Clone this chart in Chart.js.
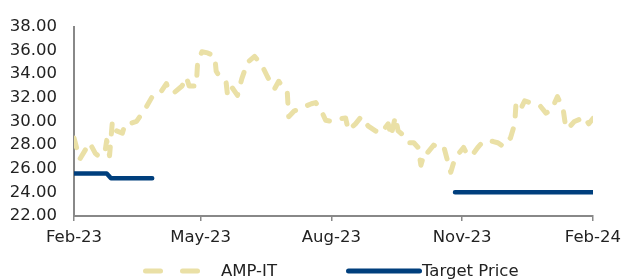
<!DOCTYPE html>
<html>
<head>
<meta charset="utf-8">
<script src="https://cdn.jsdelivr.net/npm/chart.js@4.4.1/dist/chart.umd.min.js"></script>
<style>
  html, body { margin: 0; padding: 0; background: #fff; }
  #wrap { position: relative; width: 628px; height: 280px; overflow: hidden; }
  #legendLines { position: absolute; left: 0; top: 0; }
  .legend-text {
    position: absolute;
    top: 261px;
    font: 16.5px "DejaVu Sans", sans-serif;
    line-height: 20px;
    color: #222;
    white-space: nowrap;
  }
</style>
</head>
<body>
<div id="wrap">
  <canvas id="priceChart" width="628" height="280"></canvas>
  <svg id="legendLines" width="628" height="280">
    <line x1="145.5" y1="271" x2="160.5" y2="271" stroke="#EAE0A6" stroke-width="5" stroke-linecap="round" />
    <line x1="182.5" y1="271" x2="197.5" y2="271" stroke="#EAE0A6" stroke-width="5" stroke-linecap="round" />
    <line x1="348.5" y1="271" x2="419.5" y2="271" stroke="#003F7D" stroke-width="5" stroke-linecap="round" />
  </svg>
  <span class="legend-text" style="left: 221px">AMP-IT</span>
  <span class="legend-text" style="left: 422px">Target Price</span>
</div>
<script>
// x values are days since 1 Feb 2023
const tickDays = [0, 89, 181, 273, 365];
const tickLabels = ["Feb-23", "May-23", "Aug-23", "Nov-23", "Feb-24"];

const ampDays = [
  0, 4, 8, 11, 15, 18, 22, 23, 25, 27, 30, 34, 36, 39, 44, 51, 55, 60, 65, 67,
  71, 76, 79, 81, 86, 87, 90, 94, 99, 100, 104, 107, 108, 111, 115, 118, 122,
  127, 132, 136, 141, 144, 148, 150, 151, 155, 158, 163, 167, 170, 172, 174,
  177, 181, 186, 191, 193, 198, 202, 207, 212, 216, 221, 223, 226, 228, 232,
  235, 239, 242, 244, 247, 249, 253, 256, 260, 262, 265, 267, 270, 274, 277,
  281, 284, 287, 291, 295, 298, 302, 305, 307, 310, 311, 315, 317, 323, 328,
  332, 336, 340, 344, 346, 349, 352, 356, 359, 362, 365,
];
const ampPrice = [
  28.6, 26.8, 27.6, 28.2, 27.3, 27.0, 27.6, 28.4, 27.1, 30.0, 29.2, 29.0, 29.8,
  29.8, 30.0, 31.25, 32.1, 32.3, 33.2, 32.5, 32.5, 33.0, 33.75, 33.0, 33.0,
  35.1, 35.9, 35.8, 35.5, 34.25, 33.5, 33.3, 32.2, 32.9, 32.2, 33.6, 35.0,
  35.5, 34.8, 33.8, 32.75, 33.4, 32.7, 32.5, 30.4, 30.9, 31.0, 31.3, 31.5,
  31.6, 31.2, 30.9, 30.1, 30.0, 30.2, 30.3, 29.25, 29.8, 30.4, 29.6, 29.2,
  29.0, 29.8, 28.75, 30.4, 29.2, 28.8, 28.2, 28.2, 27.8, 26.3, 27.5, 27.4,
  28.0, 27.8, 27.9, 27.0, 25.7, 26.5, 27.2, 27.8, 27.1, 27.3, 27.8, 28.2,
  28.4, 28.3, 28.2, 27.9, 28.4, 28.6, 29.8, 31.7, 31.25, 31.75, 31.5, 31.3,
  30.7, 31.0, 32.1, 31.1, 29.4, 29.6, 30.0, 30.2, 30.4, 29.8, 30.25,
];

// null breaks the line between the two target periods
const targetDays = [0, 23, 26, 55, 160, 268, 365];
const targetPrice = [25.6, 25.6, 25.2, 25.2, null, 24.0, 24.0];

const yTicks = [22, 24, 26, 28, 30, 32, 34, 36, 38];

function toPoints(xs, ys) {
  return xs.map((x, i) => ({ x: x, y: ys[i] }));
}

function renderPriceChart() {
  const ctx = document.getElementById("priceChart");
  const axisColor = "#888888";
  const tickFont = { family: "DejaVu Sans", size: 16.5 };

  new Chart(ctx, {
    type: "line",
    data: {
      datasets: [
        {
          label: "AMP-IT",
          data: toPoints(ampDays, ampPrice),
          borderColor: "#EAE0A6",
          borderWidth: 5,
          borderDash: [10, 13],
          borderCapStyle: "round",
          borderJoinStyle: "round",
          pointRadius: 0,
          tension: 0,
        },
        {
          label: "Target Price",
          data: toPoints(targetDays, targetPrice),
          borderColor: "#003F7D",
          borderWidth: 4.5,
          borderCapStyle: "round",
          borderJoinStyle: "round",
          pointRadius: 0,
          spanGaps: false,
          tension: 0,
        },
      ],
    },
    options: {
      responsive: false,
      animation: false,
      layout: { padding: { left: 0, right: 31, top: 22, bottom: 24 } },
      plugins: {
        legend: { display: false },
        tooltip: { enabled: false },
      },
      scales: {
        x: {
          type: "linear",
          min: 0,
          max: 365,
          afterBuildTicks: (scale) => {
            scale.ticks = tickDays.map((d) => ({ value: d }));
          },
          afterFit: (scale) => {
            scale.height = 40;
          },
          ticks: {
            font: tickFont,
            color: "#222",
            padding: 7,
            maxRotation: 0,
            autoSkip: false,
            callback: (value) => tickLabels[tickDays.indexOf(value)] || "",
          },
          grid: {
            drawOnChartArea: false,
            drawTicks: true,
            tickLength: 5,
            color: axisColor,
            lineWidth: 1.5,
          },
          border: { display: true, color: axisColor, width: 2 },
        },
        y: {
          min: 22,
          max: 38,
          afterBuildTicks: (scale) => {
            scale.ticks = yTicks.map((v) => ({ value: v }));
          },
          afterFit: (scale) => {
            scale.width = 74;
          },
          ticks: {
            font: tickFont,
            color: "#222",
            padding: 17,
            callback: (value) => value.toFixed(2),
          },
          grid: { display: false, drawTicks: false },
          border: { display: true, color: axisColor, width: 2 },
        },
      },
    },
  });
}

renderPriceChart();
</script>
</body>
</html>
